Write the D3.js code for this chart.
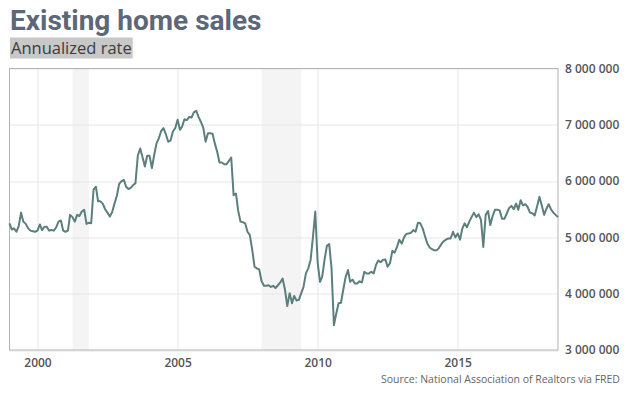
<!DOCTYPE html>
<html>
<head>
<meta charset="utf-8">
<script src="https://cdn.jsdelivr.net/npm/d3@7"></script>
<style>
  body { margin: 0; background: #fff; }
  svg { display: block; }
</style>
</head>
<body>
<div id="chart"></div>
<script>
// monthly existing home sales, annualized, millions - starts Jan 1999
var startYear = 1999;
var sales = [
  5.25, 5.14, 5.16, 5.10, 5.20, 5.44, 5.28, 5.24, 5.16, 5.12, 5.11, 5.10, // 1999
  5.12, 5.23, 5.13, 5.19, 5.19, 5.12, 5.13, 5.12, 5.18, 5.28, 5.30, 5.12, // 2000
  5.10, 5.12, 5.40, 5.36, 5.28, 5.40, 5.38, 5.46, 5.49, 5.24, 5.26, 5.25, // 2001
  5.85, 5.90, 5.64, 5.64, 5.60, 5.50, 5.44, 5.37, 5.45, 5.60, 5.74, 5.95, // 2002
  6.00, 6.02, 5.90, 5.86, 5.88, 5.93, 5.96, 6.45, 6.58, 6.43, 6.26, 6.45, // 2003
  6.45, 6.23, 6.46, 6.67, 6.76, 6.89, 6.94, 6.83, 6.70, 6.72, 6.88, 6.94, // 2004
  7.09, 6.91, 6.97, 7.10, 7.08, 7.14, 7.13, 7.22, 7.25, 7.14, 7.05, 6.95, // 2005
  6.70, 6.85, 6.85, 6.84, 6.67, 6.52, 6.33, 6.33, 6.30, 6.30, 6.36, 6.42, // 2006
  5.75, 5.78, 5.48, 5.28, 5.27, 5.25, 5.10, 5.04, 4.78, 4.48, 4.45, 4.43, // 2007
  4.22, 4.14, 4.14, 4.15, 4.12, 4.14, 4.10, 4.15, 4.20, 4.27, 4.07, 3.78, // 2008
  4.01, 3.83, 3.96, 3.88, 3.89, 4.01, 4.12, 4.36, 4.45, 4.60, 5.01, 5.46, // 2009
  4.55, 4.21, 4.30, 4.60, 4.85, 4.88, 4.45, 3.44, 3.65, 3.83, 3.84, 4.07, // 2010
  4.30, 4.42, 4.21, 4.25, 4.18, 4.18, 4.22, 4.20, 4.39, 4.36, 4.36, 4.39, // 2011
  4.36, 4.51, 4.59, 4.56, 4.60, 4.61, 4.48, 4.54, 4.76, 4.73, 4.83, 4.96, // 2012
  4.89, 5.00, 5.06, 5.07, 5.08, 5.13, 5.10, 5.26, 5.25, 5.16, 5.02, 4.89, // 2013
  4.82, 4.79, 4.77, 4.77, 4.81, 4.88, 4.93, 4.96, 4.98, 4.98, 5.10, 5.00, // 2014
  5.07, 4.96, 5.15, 5.25, 5.18, 5.28, 5.36, 5.44, 5.36, 5.41, 5.31, 4.83, // 2015
  5.40, 5.47, 5.22, 5.38, 5.49, 5.49, 5.48, 5.33, 5.33, 5.42, 5.52, 5.56, // 2016
  5.50, 5.60, 5.49, 5.66, 5.57, 5.59, 5.54, 5.44, 5.43, 5.39, 5.55, 5.72, // 2017
  5.57, 5.40, 5.50, 5.59, 5.50, 5.44, 5.40, 5.36                          // 2018
];
// recession shading (start, end)
var recessions = [["2001-04", "2001-11"], ["2008-01", "2009-06"]];
var yTicks = [3000000, 4000000, 5000000, 6000000, 7000000, 8000000];
var xTickYears = [2000, 2005, 2010, 2015];

var W = 633, H = 393;
var margin = {top: 68.5, right: 75, bottom: 43, left: 9.5},
  width = W - margin.left - margin.right,
  height = H - margin.top - margin.bottom;

var parseMonth = d3.timeParse("%Y-%m");
var data = sales.map(function(v, i) {
  return {date: new Date(startYear, i, 1), value: v * 1000000};
});

var svg = d3.select("#chart").append("svg")
  .attr("width", W)
  .attr("height", H);

// title
svg.append("text")
  .attr("x", 10)
  .attr("y", 30)
  .style("font-family", "Roboto")
  .style("font-weight", "700")
  .style("font-size", "28px")
  .style("fill", "#5c6778")
  .text("Existing home sales");

var sub = svg.append("g");
var subRect = sub.append("rect").style("fill", "#c8c8c8");
var subText = sub.append("text")
  .attr("x", 11)
  .attr("y", 54)
  .style("font-family", "Open Sans")
  .style("font-size", "16.5px")
  .style("fill", "#3c3c3c")
  .text("Annualized rate");
var bb = subText.node().getBBox();
subRect.attr("x", 10).attr("y", 37.5)
  .attr("width", bb.x + bb.width - 9).attr("height", 21);

var g = svg.append("g")
  .attr("transform", "translate(" + margin.left + "," + margin.top + ")");

var x = d3.scaleTime()
  .domain(d3.extent(data, function(d) { return d.date; }))
  .range([0, width]);

var y = d3.scaleLinear()
  .domain([3000000, 8000000])
  .range([height, 0]);

// recession shading
g.selectAll(".rec")
  .data(recessions)
  .enter()
  .append("rect")
  .attr("x", function(d) { return x(parseMonth(d[0])); })
  .attr("width", function(d) { return x(parseMonth(d[1])) - x(parseMonth(d[0])); })
  .attr("y", 0)
  .attr("height", height)
  .style("fill", "#f4f4f4");

// gridlines
g.selectAll(".hgrid")
  .data(yTicks)
  .enter()
  .append("line")
  .attr("x1", 0)
  .attr("x2", width)
  .attr("y1", function(d) { return Math.round(y(d)) + 0.5; })
  .attr("y2", function(d) { return Math.round(y(d)) + 0.5; })
  .style("stroke", "#e6e6e6");

g.selectAll(".vgrid")
  .data(xTickYears)
  .enter()
  .append("line")
  .attr("x1", function(d) { return Math.round(x(new Date(d, 0, 1))) + 0.5; })
  .attr("x2", function(d) { return Math.round(x(new Date(d, 0, 1))) + 0.5; })
  .attr("y1", 0)
  .attr("y2", height)
  .style("stroke", "#e6e6e6");

// frame
g.append("rect")
  .attr("x", 0)
  .attr("y", 0)
  .attr("width", width)
  .attr("height", height)
  .style("fill", "none")
  .style("stroke", "#b4b4b4");

// right axis
var yAxis = d3.axisRight(y)
  .tickValues(yTicks)
  .tickSize(0)
  .tickPadding(7)
  .tickFormat(function(d) { return d3.format(",")(d).replace(/,/g, " "); });

g.append("g")
  .attr("transform", "translate(" + width + ",0)")
  .call(yAxis)
  .call(function(a) { a.select(".domain").remove(); })
  .selectAll("text")
  .style("font-family", "Open Sans")
  .style("font-weight", "600")
  .style("font-size", "12px")
  .style("fill", "#555");

// bottom axis
var xAxis = d3.axisBottom(x)
  .tickValues(xTickYears.map(function(d) { return new Date(d, 0, 1); }))
  .tickSize(0)
  .tickPadding(8)
  .tickFormat(d3.timeFormat("%Y"));

g.append("g")
  .attr("transform", "translate(0," + height + ")")
  .call(xAxis)
  .call(function(a) { a.select(".domain").remove(); })
  .selectAll("text")
  .style("font-family", "Open Sans")
  .style("font-weight", "600")
  .style("font-size", "12px")
  .style("fill", "#555");

// the line
var line = d3.line()
  .x(function(d) { return x(d.date); })
  .y(function(d) { return y(d.value); });

g.append("path")
  .datum(data)
  .attr("d", line)
  .style("fill", "none")
  .style("stroke", "#5b7f7d")
  .style("stroke-width", 2)
  .style("stroke-linejoin", "round");

// source
svg.append("text")
  .attr("x", 620)
  .attr("y", 383)
  .attr("text-anchor", "end")
  .style("font-family", "Open Sans")
  .style("font-size", "10.5px")
  .style("fill", "#666")
  .text("Source: National Association of Realtors via FRED");
</script>
</body>
</html>
